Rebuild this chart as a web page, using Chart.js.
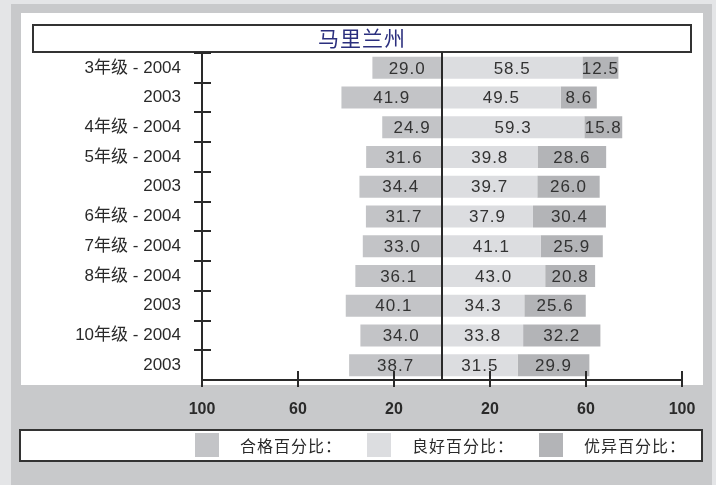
<!DOCTYPE html>
<html>
<head>
<meta charset="utf-8">
<script src="https://cdn.jsdelivr.net/npm/chart.js@4.4.1/dist/chart.umd.min.js"></script>
<style>
  html, body { margin: 0; padding: 0; background: #e4e5e7; }
  canvas { display: block; }
</style>
</head>
<body>
<canvas id="myChart" width="716" height="485"></canvas>
<script>
const chartTitle = '马里兰州';
const categories = ['3年级 - 2004', '2003', '4年级 - 2004', '5年级 - 2004', '2003',
                    '6年级 - 2004', '7年级 - 2004', '8年级 - 2004', '2003', '10年级 - 2004', '2003'];
const basic      = [29.0, 41.9, 24.9, 31.6, 34.4, 31.7, 33.0, 36.1, 40.1, 34.0, 38.7];
const proficient = [58.5, 49.5, 59.3, 39.8, 39.7, 37.9, 41.1, 43.0, 34.3, 33.8, 31.5];
const advanced   = [12.5,  8.6, 15.8, 28.6, 26.0, 30.4, 25.9, 20.8, 25.6, 32.2, 29.9];
const seriesNames = ['合格百分比：', '良好百分比：', '优异百分比：'];
const seriesColors = ['#c3c4c7', '#dcdde0', '#b3b4b7'];

const INK = '#2a2a2a';

// backgrounds, boxes, axes with crossing ticks, labels, title and legend
const framePlugin = {
    id: 'frame',
    beforeDraw(chart) {
        const c = chart.ctx;
        c.save();
        c.fillStyle = '#e4e5e7';
        c.fillRect(0, 0, chart.width, chart.height);
        c.fillStyle = '#c8c9cb';
        c.fillRect(11, 4, 701, 481);
        c.fillStyle = '#ffffff';
        c.fillRect(21, 13, 682, 372);
        // title box
        c.lineWidth = 2;
        c.strokeStyle = '#333';
        c.strokeRect(33, 25, 658, 27);
        // legend box
        c.fillRect(20, 430, 682, 31);
        c.strokeRect(20, 430, 682, 31);
        c.restore();
    },
    afterDatasetsDraw(chart) {
        const c = chart.ctx;
        const area = chart.chartArea;
        const xs = chart.scales.x;
        c.save();

        // value labels
        c.font = '17px "Liberation Sans", Arial, sans-serif';
        c.letterSpacing = '1px';
        c.fillStyle = '#333';
        c.textAlign = 'center';
        c.textBaseline = 'middle';
        chart.data.datasets.forEach((ds, di) => {
            const meta = chart.getDatasetMeta(di);
            meta.data.forEach((bar, i) => {
                const cx = (bar.x + bar.base) / 2;
                c.fillText(Math.abs(ds.data[i]).toFixed(1), cx, bar.y + 1);
            });
        });
        c.letterSpacing = '0px';

        c.strokeStyle = INK;
        c.lineWidth = 2;
        c.beginPath();
        // center line
        const x0 = Math.round(xs.getPixelForValue(0));
        c.moveTo(x0, area.top - 1);
        c.lineTo(x0, area.bottom);
        // y axis
        c.moveTo(area.left, area.top - 1);
        c.lineTo(area.left, area.bottom + 7);
        // x axis
        c.moveTo(area.left, area.bottom);
        c.lineTo(area.right, area.bottom);
        // y ticks at category boundaries
        const band = (area.bottom - area.top) / categories.length;
        for (let i = 0; i < categories.length; i++) {
            const y = Math.round(area.top + i * band);
            c.moveTo(area.left - 8, y);
            c.lineTo(area.left + 9, y);
        }
        // x ticks crossing the axis
        xs.ticks.forEach(t => {
            const x = Math.round(xs.getPixelForValue(t.value));
            c.moveTo(x, area.bottom - 9);
            c.lineTo(x, area.bottom + 7);
        });
        c.stroke();

        // title
        c.font = '21px "Noto Sans CJK SC", sans-serif';
        c.letterSpacing = '1px';
        c.fillStyle = '#2b2f7e';
        c.textAlign = 'center';
        c.textBaseline = 'middle';
        c.fillText(chartTitle, 362, 38);

        // legend
        c.font = '16px "Noto Sans CJK SC", sans-serif';
        c.letterSpacing = '1px';
        c.textAlign = 'left';
        let lx = 195;
        chart.data.datasets.forEach(ds => {
            c.fillStyle = ds.backgroundColor;
            c.fillRect(lx, 433, 24, 24);
            c.fillStyle = INK;
            c.fillText(ds.label, lx + 45, 446);
            lx += 24 + 21 + c.measureText(ds.label).width + 25;
        });
        c.restore();
    }
};

const ctx = document.getElementById('myChart').getContext('2d');
const myChart = new Chart(ctx, {
    type: 'bar',
    data: {
        labels: categories,
        datasets: [
            { label: seriesNames[0], data: basic.map(v => -v), backgroundColor: seriesColors[0] },
            { label: seriesNames[1], data: proficient, backgroundColor: seriesColors[1] },
            { label: seriesNames[2], data: advanced, backgroundColor: seriesColors[2], minBarLength: 36 }
        ]
    },
    options: {
        indexAxis: 'y',
        responsive: false,
        animation: false,
        layout: { padding: { top: 53, right: 34, bottom: 0, left: 0 } },
        datasets: {
            bar: { barPercentage: 0.74, categoryPercentage: 1.0, borderWidth: 0 }
        },
        plugins: {
            legend: { display: false },
            title: { display: false },
            tooltip: { enabled: false }
        },
        scales: {
            x: {
                stacked: true,
                min: -100,
                max: 100,
                grid: { display: false, drawTicks: false },
                border: { display: false },
                ticks: {
                    stepSize: 40,
                    padding: 20,
                    color: INK,
                    font: { family: '"Liberation Sans", Arial, sans-serif', size: 16, weight: 'bold' },
                    callback: v => Math.abs(v)
                },
                afterFit: s => { s.height = 105; }
            },
            y: {
                stacked: true,
                grid: { display: false, drawTicks: false },
                border: { display: false },
                ticks: {
                    autoSkip: false,
                    padding: 21,
                    color: INK,
                    font: { family: '"Liberation Sans", "Noto Sans CJK SC", sans-serif', size: 17 }
                },
                afterFit: s => { s.width = 202; }
            }
        }
    },
    plugins: [framePlugin]
});
</script>
</body>
</html>
